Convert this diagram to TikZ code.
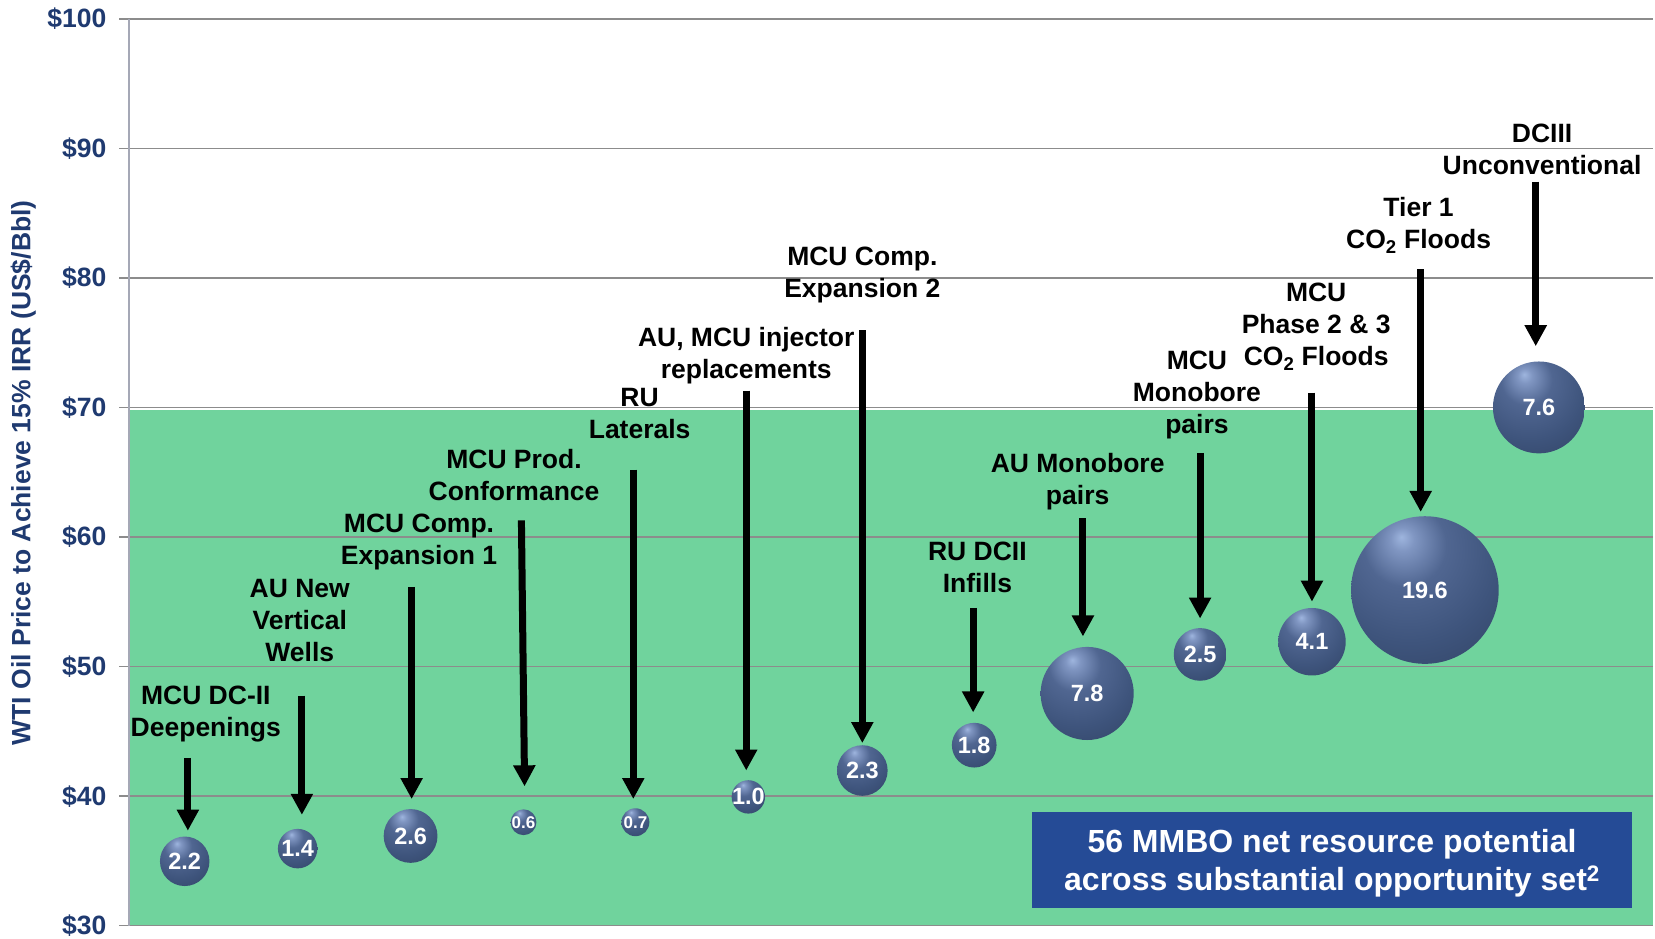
\documentclass[tikz,border=0pt]{standalone}
\usepackage{fontspec}
\setmainfont{Liberation Sans}
\usetikzlibrary{arrows.meta}
\definecolor{navy}{RGB}{31,58,112}
\definecolor{chartgreen}{RGB}{112,211,157}
\definecolor{boxblue}{RGB}{37,75,150}
\definecolor{gridgray}{RGB}{140,140,140}
\definecolor{axisgray}{RGB}{165,168,182}
\definecolor{sphHi}{RGB}{158,181,222}
\definecolor{sphA}{RGB}{128,150,194}
\definecolor{sphB}{RGB}{80,102,145}
\definecolor{sphC}{RGB}{62,84,124}
\definecolor{sphD}{RGB}{50,68,102}
\definecolor{sphE}{RGB}{30,40,62}
\definecolor{sphF}{RGB}{18,24,38}
\pgfdeclareradialshading{sphere}{\pgfpoint{-8bp}{18bp}}{color(0bp)=(sphHi); color(4bp)=(sphA); color(14bp)=(sphB); color(30bp)=(sphC); color(46bp)=(sphD); color(58bp)=(sphE); color(66bp)=(sphF); color(90bp)=(sphF)}
\begin{document}
\begin{tikzpicture}[x=1.05548pt,y=-1.05548pt,
  lbl/.style={font=\fontsize{26.5}{32}\selectfont\bfseries, align=center, inner sep=0pt},
  ytick/.style={font=\fontsize{26.5}{32}\selectfont\bfseries, text=navy, anchor=east, inner sep=0pt},
  bub/.style={circle, inner sep=0pt, shading=sphere},
  bubtxt/.style={text=white, font=\fontsize{23.5}{23.5}\selectfont\bfseries, inner sep=0pt},
  bubtxtsm/.style={text=white, font=\fontsize{17}{17}\selectfont\bfseries, inner sep=0pt},
  pointer/.style={line width=7pt, -{Triangle[width=21pt,length=21pt]}},
  gridline/.style={draw=gridgray, line width=1.5pt},
  axisline/.style={draw=axisgray, line width=2pt}]
\useasboundingbox (0,0) rectangle (1568,889);
% green band
\fill[chartgreen] (122,388) rectangle (1566,877);
% grid lines
\foreach \yy in {18.1,140.8,263.5,386.2,508.9,631.6,754.3,877}{
  \draw[gridline] (113,\yy) -- (1566,\yy);
}
\draw[axisline] (122,18.1) -- (122,877);
% tick labels
\node[ytick] (t100) at (101,18.1) {\$100};
\node[ytick] (t90) at (101,140.8) {\$90};
\node[ytick] (t80) at (101,263.5) {\$80};
\node[ytick] (t70) at (101,386.2) {\$70};
\node[ytick] (t60) at (101,508.9) {\$60};
\node[ytick] (t50) at (101,631.6) {\$50};
\node[ytick] (t40) at (101,754.3) {\$40};
\node[ytick] (t30) at (101,877) {\$30};
\node[rotate=90, font=\fontsize{26.5}{32}\selectfont\bfseries, text=navy, inner sep=0pt] (ytitle) at (22,448) {WTI Oil Price to Achieve 15\% IRR (US\$/Bbl)};
% bubbles
\node[bub, minimum size=49.5pt, label={[bubtxt]center:2.2}] (b1) at (175,816) {};
\node[bub, minimum size=39.5pt, label={[bubtxt]center:1.4}] (b2) at (282,804) {};
\node[bub, minimum size=53.8pt, label={[bubtxt]center:2.6}] (b3) at (389,792) {};
\node[bub, minimum size=25.8pt, label={[bubtxtsm]center:0.6}] (b4) at (496,779) {};
\node[bub, minimum size=27.9pt, label={[bubtxtsm]center:0.7}] (b5) at (602,779) {};
\node[bub, minimum size=33.4pt, label={[bubtxt]center:1.0}] (b6) at (709,755) {};
\node[bub, minimum size=50.6pt, label={[bubtxt]center:2.3}] (b7) at (817,730) {};
\node[bub, minimum size=44.7pt, label={[bubtxt]center:1.8}] (b8) at (923,706) {};
\node[bub, minimum size=93.1pt, label={[bubtxt]center:7.8}] (b9) at (1030,657) {};
\node[bub, minimum size=52.7pt, label={[bubtxt]center:2.5}] (b10) at (1137,620) {};
\node[bub, minimum size=67.5pt, label={[bubtxt]center:4.1}] (b11) at (1243,608) {};
\node[bub, minimum size=147.6pt, label={[bubtxt]center:19.6}] (b12) at (1350,559) {};
\node[bub, minimum size=91.9pt, label={[bubtxt]center:7.6}] (b13) at (1458,386) {};
% labels
\node[lbl] (l1) at (195,676.5) {MCU DC-II\\Deepenings};
\node[lbl] (l2) at (284,587.5) {AU New\\Vertical\\Wells};
\node[lbl] (l3) at (397,513.5) {MCU Comp.\\Expansion 1};
\node[lbl] (l4) at (487,450.5) {MCU Prod.\\Conformance};
\node[lbl] (l5) at (606,392) {RU\\Laterals};
\node[lbl] (l6) at (707,337) {AU, MCU injector\\replacements};
\node[lbl] (l7) at (817,261) {MCU Comp.\\Expansion 2};
\node[lbl] (l8) at (926,538) {RU DCII\\Infills};
\node[lbl] (l9) at (1021,456) {AU Monobore\\pairs};
\node[lbl] (l10) at (1134,374) {MCU\\Monobore\\pairs};
\node[lbl] (l11) at (1247,309.5) {MCU\\Phase 2 \& 3\\CO\textsubscript{2} Floods};
\node[lbl] (l12) at (1344,213.5) {Tier 1\\CO\textsubscript{2} Floods};
\node[lbl] (l13) at (1461,141.5) {DCIII\\Unconventional};
% arrow ends
\coordinate (s1) at (178,718);  \coordinate (e1) at (178,787);
\coordinate (s2) at (286,659);  \coordinate (e2) at (286,772);
\coordinate (s3) at (390,556);  \coordinate (e3) at (390,757);
\coordinate (s4) at (494,493);  \coordinate (e4) at (497,745);
\coordinate (s5) at (600,445);  \coordinate (e5) at (600,757);
\coordinate (s6) at (707,370);  \coordinate (e6) at (707,730);
\coordinate (s7) at (817,313);  \coordinate (e7) at (817,704);
\coordinate (s8) at (922,576);  \coordinate (e8) at (922,675);
\coordinate (s9) at (1026,491); \coordinate (e9) at (1026,603);
\coordinate (s10) at (1137,429); \coordinate (e10) at (1137,586);
\coordinate (s11) at (1243,372); \coordinate (e11) at (1243,570);
\coordinate (s12) at (1346,255); \coordinate (e12) at (1346,485);
\coordinate (s13) at (1455,172); \coordinate (e13) at (1455,328);
\foreach \i in {1,...,13}{ \draw[pointer] (s\i) -- (e\i); }
% note box
\node[fill=boxblue, text=white, minimum width=599.5pt, minimum height=96pt, inner sep=0pt,
  text depth=0pt, font=\fontsize{32}{38}\selectfont\bfseries, align=center] (note) at (1262,814.5)
  {56 MMBO net resource potential\\across substantial opportunity set\textsuperscript{2}};
\end{tikzpicture}
\end{document}
